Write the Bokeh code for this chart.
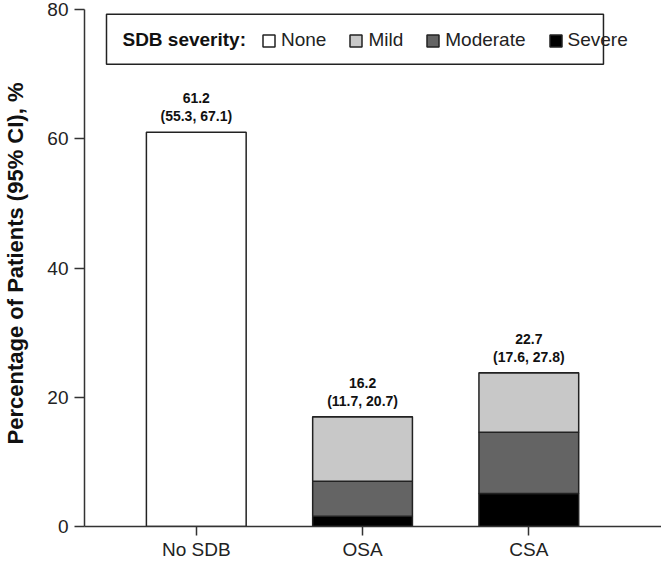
from bokeh.plotting import figure
from bokeh.models import (ColumnDataSource, Legend, LegendItem, Label, BoxAnnotation,
                          FixedTicker, Range1d)
from bokeh.core.properties import value
from bokeh.embed import file_html
from bokeh.resources import INLINE

# ---- data ----
categories = ["No SDB", "OSA", "CSA"]
none_vals = [61.0, 0.0, 0.0]
severe_vals = [0.0, 1.6, 5.1]
moderate_vals = [0.0, 5.4, 9.5]
mild_vals = [0.0, 10.0, 9.2]
total_labels = ["61.2", "16.2", "22.7"]
ci_labels = ["(55.3, 67.1)", "(11.7, 20.7)", "(17.6, 27.8)"]
y_ticks = [0, 20, 40, 60, 80]

FONT = "Liberation Sans"
AXC = "#333333"

xpos = list(range(1, len(categories) + 1))
tops = [n + s + m + mi for n, s, m, mi in zip(none_vals, severe_vals, moderate_vals, mild_vals)]

src = ColumnDataSource(dict(x=xpos, none=none_vals, severe=severe_vals,
                            moderate=moderate_vals, mild=mild_vals,
                            top=tops, tot=total_labels, ci=ci_labels))

p = figure(width=661, height=562, output_backend="svg", toolbar_location=None,
           x_range=Range1d(0.3277, 3.798), y_range=Range1d(0, 81.4),
           min_border_left=83, min_border_right=0, min_border_top=0, min_border_bottom=0)
p.outline_line_color = None
p.grid.visible = False
p.background_fill_color = "white"

stack = ["severe", "moderate", "mild", "none"]
colors = ["#000000", "#646464", "#c8c8c8", "#ffffff"]
rs = p.vbar_stack(stack, x="x", width=0.6, source=src, color=colors,
                  line_color="#222222", line_width=1.5)

p.text(x="x", y="top", text="ci", source=src, y_offset=-16, text_align="center",
       text_baseline="middle", text_font=value(FONT), text_font_size="14px",
       text_font_style="bold", text_color="#111111")
p.text(x="x", y="top", text="tot", source=src, y_offset=-34, text_align="center",
       text_baseline="middle", text_font=value(FONT), text_font_size="14px",
       text_font_style="bold", text_color="#111111")

# axes
p.yaxis.ticker = FixedTicker(ticks=y_ticks)
p.yaxis.bounds = (0, 80)
p.xaxis.ticker = FixedTicker(ticks=xpos)
p.xaxis.major_label_overrides = {x: c for x, c in zip(xpos, categories)}
for ax in (p.xaxis[0], p.yaxis[0]):
    ax.axis_line_color = AXC
    ax.axis_line_width = 1.5
    ax.major_tick_line_color = AXC
    ax.major_tick_line_width = 1.5
    ax.major_tick_in = 0
    ax.minor_tick_line_color = None
    ax.major_label_text_font = FONT
    ax.major_label_text_color = "#222222"
p.yaxis.major_tick_out = 10
p.xaxis.major_tick_out = 9
p.yaxis.major_label_text_font_size = "19px"
p.xaxis.major_label_text_font_size = "19px"
p.yaxis.major_label_standoff = 6
p.xaxis.major_label_standoff = 3
p.yaxis.axis_label = "Percentage of Patients (95% CI), %"
p.yaxis.axis_label_text_font = FONT
p.yaxis.axis_label_text_font_style = "bold"
p.yaxis.axis_label_text_font_size = "22px"
p.yaxis.axis_label_text_color = "#111111"
p.yaxis.axis_label_standoff = 16

# legend box, title, items
p.add_layout(BoxAnnotation(left=0.460, right=3.449, bottom=71.52, top=79.26,
                           fill_color="white", fill_alpha=1.0,
                           line_color="#222222", line_alpha=1.0, line_width=1.5,
                           level="overlay"))
p.add_layout(Label(x=0.556, y=75.39, text="SDB severity:", text_font=FONT,
                   text_font_style="bold", text_font_size="19px",
                   text_baseline="middle", text_color="#111111", level="overlay"))
names = ["None", "Mild", "Moderate", "Severe"]
rend = [rs[3], rs[2], rs[1], rs[0]]
legend = Legend(items=[LegendItem(label=n, renderers=[r]) for n, r in zip(names, rend)],
                orientation="horizontal", location=(177, 475),
                border_line_color=None, background_fill_alpha=0.0,
                padding=0, margin=0, spacing=22, label_standoff=5,
                glyph_width=15, glyph_height=15,
                label_text_font=FONT, label_text_font_size="19px",
                label_text_color="#222222")
p.add_layout(legend)

open("out.html", "w").write(file_html(p, INLINE))
